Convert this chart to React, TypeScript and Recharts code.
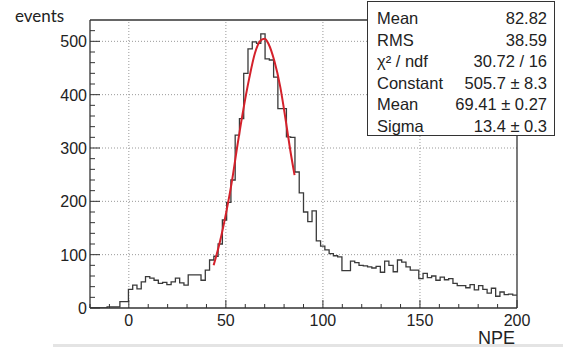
import * as React from 'react';
import {
	ComposedChart,
	Line,
	XAxis,
	YAxis,
	ReferenceLine
} from 'recharts';

// histogram: 100 bins from -20 to 200 (width 2.2)
const BIN_LO = -20;
const BIN_W = 2.2;
const binCounts = [
	0, 0, 0, 0, 2, 2, 2, 12, 12,
	35, 43, 36, 49, 59, 56, 52, 46, 48, 44, 49, 56, 47, 43, 62, 62, 62, 52, 71, 90, 97,
	120, 165, 198, 240,
	324, 355, 440, 486, 499, 496, 514, 467, 465, 433, 374, 374, 321, 320, 255,
	216, 180, 162, 182, 126, 116, 109, 102, 98, 96,
	70, 70, 88, 85, 80, 79, 77, 75, 78, 67, 88, 80, 68, 90, 86, 77, 71, 71, 55, 65,
	57, 60, 52, 58, 53, 55, 46, 42, 42, 38, 44, 34, 42, 35, 28, 37, 22, 30, 25, 26, 24
];

// red gaussian fit
const fitX = [43.7, 47, 50, 53, 56, 59, 62, 65, 68, 70, 72, 75, 78, 81, 83, 85.4];
const fitY = [80, 125, 176, 235, 306, 372, 430, 478, 502, 505, 495, 463, 415, 348, 300, 249];

const xMajor = [0, 50, 100, 150, 200];
const xTicks = [-20, -10, 0, 10, 20, 30, 40, 50, 60, 70, 80, 90, 100, 110, 120, 130, 140, 150, 160, 170, 180, 190, 200];
const yMajor = [0, 100, 200, 300, 400, 500];
const yTicks = [0, 20, 40, 60, 80, 100, 120, 140, 160, 180, 200, 220, 240, 260, 280, 300, 320, 340, 360, 380, 400, 420, 440, 460, 480, 500, 520];
const xGrid = [0, 50, 100, 150];
const yGrid = [100, 200, 300, 400, 500];

const statLabels = ['Mean', 'RMS', 'χ² / ndf', 'Constant', 'Mean', 'Sigma'];
const statValues = ['82.82', '38.59', '30.72 / 16', '505.7 ± 8.3', '69.41 ± 0.27', '13.4 ± 0.3'];

const histData = binCounts
	.map((c, i) => ({ x: +(BIN_LO + i * BIN_W).toFixed(1), h: c }))
	.concat([{ x: 200, h: binCounts[binCounts.length - 1] }]);
const fitData = fitX.map((x, i) => ({ x, f: fitY[i] }));

const FONT = '"Liberation Sans", Arial, sans-serif';
const AX = '#333';

const renderXTick = (p: any) => {
	const v = p.payload.value;
	const major = xMajor.indexOf(v) >= 0;
	return (
		<g>
			<line x1={p.x} x2={p.x} y1={p.y} y2={p.y - (major ? 8 : 4)} stroke={AX} strokeWidth={1} />
			{major && (
				<text x={p.x} y={p.y + 18} textAnchor="middle" fontSize={16} fontFamily={FONT} fill="#222">
					{v}
				</text>
			)}
		</g>
	);
};

const renderYTick = (p: any) => {
	const v = p.payload.value;
	const major = yMajor.indexOf(v) >= 0;
	return (
		<g>
			<line x1={p.x} x2={p.x + (major ? 10 : 5)} y1={p.y} y2={p.y} stroke={AX} strokeWidth={1} />
			{major && (
				<text x={p.x - 3} y={p.y + 6} textAnchor="end" fontSize={16} fontFamily={FONT} fill="#222">
					{v}
				</text>
			)}
		</g>
	);
};

export default function App() {
	return (
		<div style={{ position: 'absolute', left: 0, top: 0, width: 563, height: 347, background: '#fff' }}>
			<ComposedChart
				width={563}
				height={347}
				data={histData}
				margin={{ top: 20, right: 46, left: 0, bottom: 0 }}
			>
				<XAxis
					dataKey="x"
					type="number"
					domain={[-20, 200]}
					ticks={xTicks}
					interval={0}
					allowDataOverflow
					height={39}
					tickSize={0}
					tickMargin={0}
					tickLine={false}
					tick={renderXTick}
					axisLine={{ stroke: AX, strokeWidth: 1.3 }}
				/>
				<YAxis
					type="number"
					domain={[0, 540]}
					ticks={yTicks}
					interval={0}
					allowDataOverflow
					width={90}
					tickSize={0}
					tickMargin={0}
					tickLine={false}
					tick={renderYTick}
					axisLine={{ stroke: AX, strokeWidth: 1.3 }}
				/>
				{xGrid.map(v => (
					<ReferenceLine key={'gx' + v} x={v} stroke="#999" strokeDasharray="1 2" />
				))}
				{yGrid.map(v => (
					<ReferenceLine key={'gy' + v} y={v} stroke="#999" strokeDasharray="1 2" />
				))}
				<ReferenceLine x={200} stroke={AX} strokeWidth={1.3} />
				<ReferenceLine y={540} stroke={AX} strokeWidth={1.3} />
				<Line
					dataKey="h"
					type="stepAfter"
					stroke="#3a3a3a"
					strokeWidth={1.3}
					dot={false}
					isAnimationActive={false}
				/>
				<Line
					data={fitData}
					dataKey="f"
					type="monotone"
					stroke="#d4212b"
					strokeWidth={2}
					dot={false}
					isAnimationActive={false}
				/>
			</ComposedChart>
			<div style={{ position: 'absolute', left: 15, top: 5, fontFamily: 'Lato, "Open Sans", sans-serif', fontSize: 17, color: '#222' }}>
				events
			</div>
			<div style={{ position: 'absolute', right: 48, top: 328, fontFamily: FONT, fontSize: 18, color: '#222' }}>
				NPE
			</div>
			<div
				style={{
					position: 'absolute',
					left: 367,
					top: 1,
					width: 188,
					height: 135,
					border: '1px solid #333',
					background: '#fff',
					fontFamily: FONT,
					fontSize: 16.5,
					color: '#222',
					padding: '6px 7px 0 9px',
					boxSizing: 'border-box'
				}}
			>
				{statLabels.map((l, i) => (
					<div key={i} style={{ display: 'flex', justifyContent: 'space-between', height: 21.5, lineHeight: '21.5px' }}>
						<span>{l}</span>
						<span>{statValues[i]}</span>
					</div>
				))}
			</div>
			<div style={{ position: 'absolute', left: 53, top: 344, width: 510, height: 3, background: '#e4e4e4' }} />
		</div>
	);
}
